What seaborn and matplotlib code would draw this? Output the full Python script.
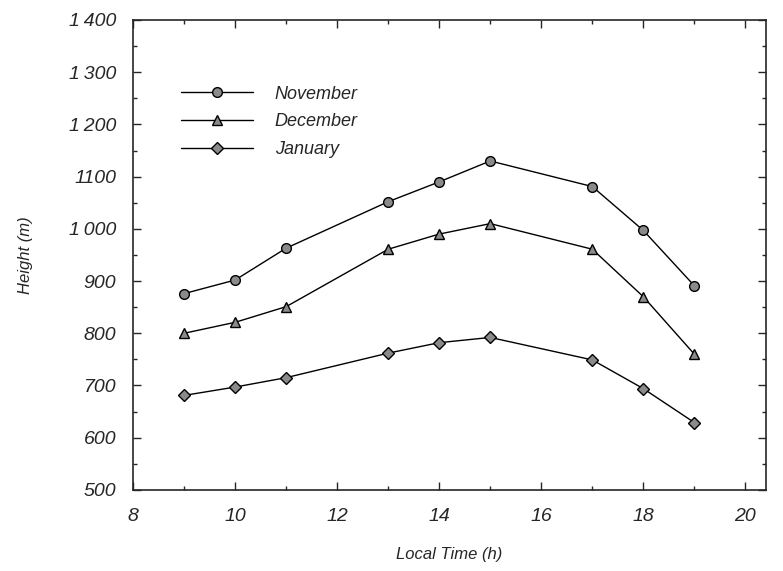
import numpy as np
import pandas as pd
import matplotlib
matplotlib.use("Agg")
import matplotlib.pyplot as plt
import seaborn as sns
from matplotlib.ticker import MultipleLocator

# --- data ---
hours = [9, 10, 11, 13, 14, 15, 17, 18, 19]
november = [876, 902, 963, 1052, 1090, 1130, 1081, 997, 891]
december = [800, 821, 851, 961, 990, 1010, 961, 870, 760]
january = [681, 697, 715, 762, 782, 792, 749, 694, 629]
months = ["November", "December", "January"]
markers = ["o", "^", "D"]
y_ticks = [500, 600, 700, 800, 900, 1000, 1100, 1200, 1300, 1400]
y_labels = ["500", "600", "700", "800", "900", "1\u2009000", "1100", "1\u2009200", "1\u2009300", "1\u2009400"]
x_ticks = [8, 10, 12, 14, 16, 18, 20]

sns.set_style("ticks")
plt.rcParams["font.family"] = ["Liberation Sans", "DejaVu Sans"]
plt.rcParams["font.style"] = "italic"

fig = plt.figure(figsize=(7.83, 5.71), dpi=100)
ax = fig.add_axes([0.170, 0.142, 0.808, 0.823])

df = pd.DataFrame({"hour": hours, "November": november,
                   "December": december, "January": january})

for month, mk in zip(months, markers):
    ms = 7 if mk != "^" else 7.5
    if mk == "D":
        ms = 6.5
    sns.lineplot(data=df, x="hour", y=month, ax=ax, color="black", lw=1.0,
                 marker=mk, markersize=ms, markerfacecolor="#8a8a8a",
                 markeredgecolor="black", markeredgewidth=1.0, label=month)

ax.set_xlim(8, 20.4)
ax.set_ylim(500, 1400)
ax.set_xticks(x_ticks)
ax.set_xticklabels([str(t) for t in x_ticks], fontsize=14, style="italic")
ax.set_yticks(y_ticks)
ax.set_yticklabels(y_labels, fontsize=14, style="italic")
ax.xaxis.set_minor_locator(MultipleLocator(1))
ax.yaxis.set_minor_locator(MultipleLocator(50))
ax.tick_params(which="both", direction="in", top=True, right=True, width=1.0)
ax.tick_params(which="major", length=6)
ax.tick_params(axis="x", which="major", pad=13)
ax.tick_params(axis="y", which="major", pad=12)
ax.tick_params(which="minor", length=3)
for s in ax.spines.values():
    s.set_linewidth(1.2)

ax.set_xlabel("Local Time (h)", fontsize=12, style="italic", labelpad=16)
ax.set_ylabel("Height (m)", fontsize=12, style="italic", labelpad=26)

ax.legend(loc="upper left", bbox_to_anchor=(0.05, 0.895), frameon=False,
          fontsize=13, handlelength=4.0, handletextpad=1.2,
          labelspacing=0.6, numpoints=1)

fig.savefig("out.png", dpi=100)
